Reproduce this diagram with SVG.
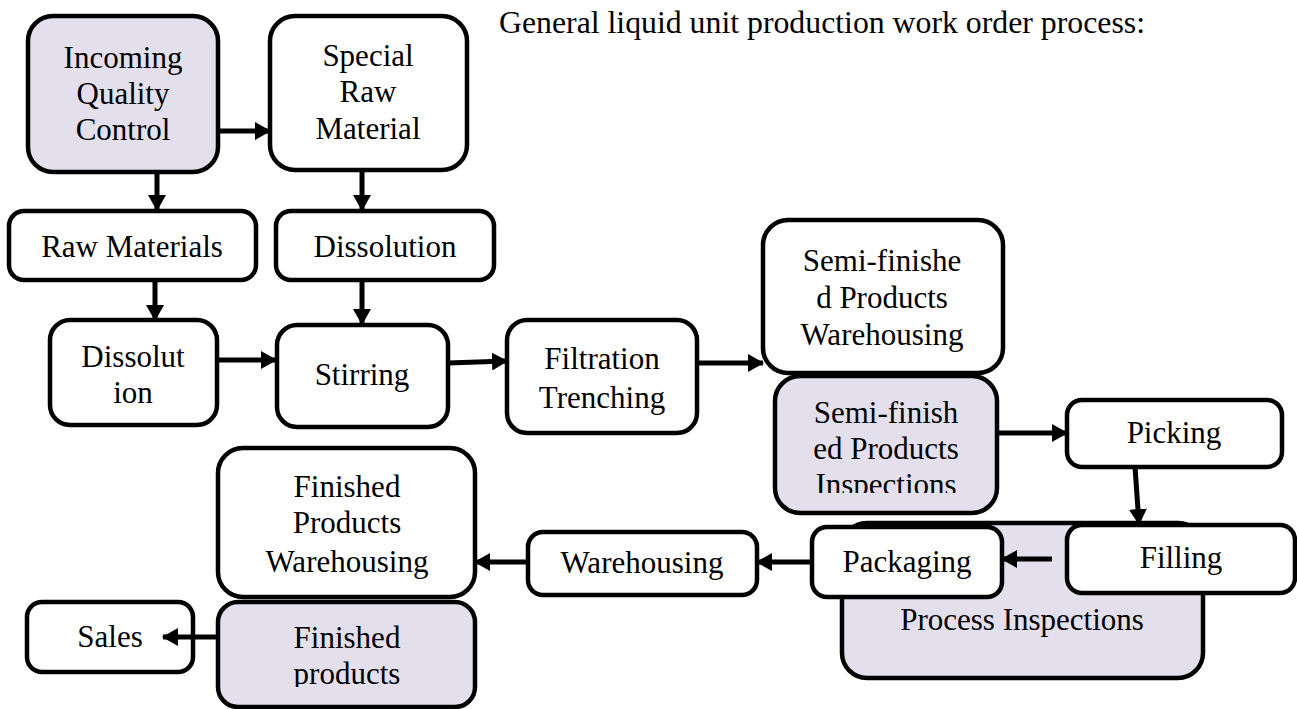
<svg xmlns="http://www.w3.org/2000/svg" width="1297" height="709" viewBox="0 0 1297 709">
  <style>
    .box { fill: #ffffff; stroke: #000000; stroke-width: 4.5; }
    .qc { fill: #e4dfec; stroke: #000000; stroke-width: 4.5; }
    .lbl { font-family: "Liberation Serif", "Times New Roman", serif; font-size: 31px; fill: #000000; text-anchor: middle; }
    .title { font-family: "Liberation Serif", "Times New Roman", serif; font-size: 31px; fill: #000000; }
    .edge { fill: none; stroke: #000000; stroke-width: 5; marker-end: url(#arrow); }
  </style>
  <defs>
    <marker id="arrow" markerUnits="userSpaceOnUse" markerWidth="16" markerHeight="18" refX="15" refY="9" orient="auto">
      <path d="M0,0 L16,9 L0,18 Z" fill="#000000"/>
    </marker>
    <clipPath id="clip-sfi"><rect x="770" y="370" width="235" height="123"/></clipPath>
    <clipPath id="clip-fp"><rect x="210" y="598" width="270" height="89"/></clipPath>
  </defs>

  <rect width="1297" height="709" fill="#ffffff"/>

  <text class="title" x="499" y="33" textLength="646" lengthAdjust="spacingAndGlyphs">General liquid unit production work order process:</text>

  <g id="incoming-quality-control">
    <rect class="qc" x="28" y="16" width="190" height="156" rx="25"/>
    <text class="lbl" x="123" y="68">Incoming</text>
    <text class="lbl" x="123" y="104">Quality</text>
    <text class="lbl" x="123" y="140">Control</text>
  </g>

  <g id="special-raw-material">
    <rect class="box" x="270" y="16" width="197" height="154" rx="25"/>
    <text class="lbl" x="368" y="66">Special</text>
    <text class="lbl" x="368" y="102">Raw</text>
    <text class="lbl" x="368" y="139">Material</text>
  </g>

  <g id="raw-materials">
    <rect class="box" x="9" y="211" width="247" height="69" rx="15"/>
    <text class="lbl" x="132" y="257">Raw Materials</text>
  </g>

  <g id="dissolution-special">
    <rect class="box" x="276" y="211" width="218" height="69" rx="15"/>
    <text class="lbl" x="385" y="257">Dissolution</text>
  </g>

  <g id="dissolution-raw">
    <rect class="box" x="50" y="320" width="167" height="105" rx="20"/>
    <text class="lbl" x="133" y="367">Dissolut</text>
    <text class="lbl" x="133" y="403">ion</text>
  </g>

  <g id="stirring">
    <rect class="box" x="277" y="325" width="171" height="102" rx="20"/>
    <text class="lbl" x="362" y="385">Stirring</text>
  </g>

  <g id="filtration-trenching">
    <rect class="box" x="507" y="320" width="190" height="113" rx="20"/>
    <text class="lbl" x="602" y="369">Filtration</text>
    <text class="lbl" x="602" y="408">Trenching</text>
  </g>

  <g id="semi-finished-warehousing">
    <rect class="box" x="763" y="220" width="240" height="153" rx="25"/>
    <text class="lbl" x="882" y="271">Semi-finishe</text>
    <text class="lbl" x="882" y="308">d Products</text>
    <text class="lbl" x="882" y="345">Warehousing</text>
  </g>

  <g id="semi-finished-inspections">
    <rect class="qc" x="775" y="376" width="222" height="137" rx="25"/>
    <g clip-path="url(#clip-sfi)">
      <text class="lbl" x="886" y="423">Semi-finish</text>
      <text class="lbl" x="886" y="459">ed Products</text>
      <text class="lbl" x="886" y="495">Inspections</text>
    </g>
  </g>

  <g id="picking">
    <rect class="box" x="1067" y="400" width="215" height="67" rx="15"/>
    <text class="lbl" x="1174" y="443">Picking</text>
  </g>

  <g id="process-inspections">
    <rect class="qc" x="842" y="523" width="361" height="155" rx="25"/>
    <text class="lbl" x="1022" y="630">Process Inspections</text>
  </g>

  <g id="filling">
    <rect class="box" x="1067" y="525" width="228" height="68" rx="15"/>
    <text class="lbl" x="1181" y="568">Filling</text>
  </g>

  <g id="packaging">
    <rect class="box" x="812" y="527" width="190" height="70" rx="15"/>
    <text class="lbl" x="907" y="572">Packaging</text>
  </g>

  <g id="warehousing">
    <rect class="box" x="528" y="532" width="229" height="63" rx="15"/>
    <text class="lbl" x="642" y="573">Warehousing</text>
  </g>

  <g id="finished-products-warehousing">
    <rect class="box" x="218" y="448" width="257" height="149" rx="25"/>
    <text class="lbl" x="347" y="497">Finished</text>
    <text class="lbl" x="347" y="533">Products</text>
    <text class="lbl" x="347" y="572">Warehousing</text>
  </g>

  <g id="finished-products">
    <rect class="qc" x="218" y="602" width="257" height="105" rx="20"/>
    <g clip-path="url(#clip-fp)">
      <text class="lbl" x="347" y="648">Finished</text>
      <text class="lbl" x="347" y="684">products</text>
    </g>
  </g>

  <g id="sales">
    <rect class="box" x="27" y="602" width="166" height="70" rx="15"/>
    <text class="lbl" x="110" y="647">Sales</text>
  </g>

  <!-- connectors sit above the boxes so heads that reach into a box stay visible -->
  <g id="connectors">
    <path class="edge" d="M218,131 L270,131"/>
    <path class="edge" d="M157,172 L157,210"/>
    <path class="edge" d="M362,170 L362,210"/>
    <path class="edge" d="M155,280 L155,320"/>
    <path class="edge" d="M362,280 L362,324"/>
    <path class="edge" d="M217,360 L276,360"/>
    <path class="edge" d="M448,363 L507,361"/>
    <path class="edge" d="M697,363 L763,363"/>
    <path class="edge" d="M997,433 L1067,433"/>
    <path class="edge" d="M1135,467 L1139,524"/>
    <path class="edge" d="M1052,559 L1002,559"/>
    <path class="edge" d="M812,562 L757,562"/>
    <path class="edge" d="M528,562 L475,562"/>
    <path class="edge" d="M218,637 L163,637"/>
  </g>
</svg>
